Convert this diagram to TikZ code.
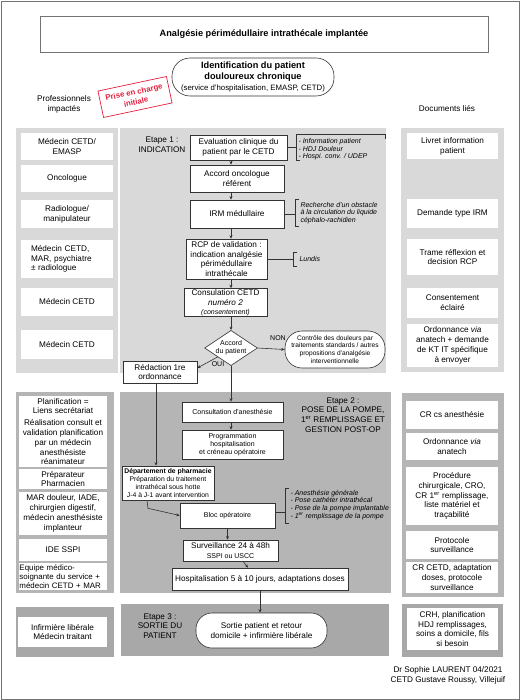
\documentclass[tikz,border=0pt]{standalone}
\usepackage{fontspec}
\setmainfont{Liberation Sans}
\usepackage{tikz}
\usetikzlibrary{shapes.geometric, arrows.meta}
\definecolor{stageone}{gray}{0.85}
\definecolor{stagetwo}{gray}{0.71}
\definecolor{stagethree}{gray}{0.66}
\definecolor{edgegray}{gray}{0.2}
\definecolor{framegray}{gray}{0.45}
\definecolor{stampred}{RGB}{228,30,60}
\newcommand{\fsn}{\fontsize{8.2}{9.8}\selectfont}
\newcommand{\fss}{\fontsize{7}{8.2}\selectfont}
\newcommand{\fsb}{\fontsize{9.2}{11}\selectfont\bfseries}
\tikzset{
	flowbox/.style={draw=edgegray, line width=0.6pt, fill=white, align=center, inner sep=0.5pt, font=\fsn},
	sidebox/.style={fill=white, align=center, inner sep=0.5pt, font=\fsn},
	wh/.style 2 args={minimum width=#1, minimum height=#2}
}
\tikzset{
	notetext/.style={font=\fontsize{7}{7.8}\selectfont\itshape, align=left, anchor=west, inner sep=0pt},
	yesno/.style={font=\fss, inner sep=0pt},
	brack/.style={draw=edgegray, line width=0.5pt},
	flowarrow/.style={-{Stealth[length=3.5pt, width=3pt]}, draw=edgegray, line width=0.6pt}
}

\begin{document}
\begin{tikzpicture}[x=1pt, y=-1pt]
  \useasboundingbox (0,0) rectangle (520,700);
  \draw[framegray, line width=0.8pt] (1,1) rectangle (519,699);

  % bands of the three stages
  \fill[stageone] (16,128) rectangle (118,373);
  \fill[stageone] (120,128) rectangle (386,373);
  \fill[stageone] (401,128) rectangle (504,372);
  \fill[stagetwo] (16,392) rectangle (114,593);
  \fill[stagetwo] (120,392) rectangle (391,593);
  \fill[stagetwo] (402,393) rectangle (504,597);
  \fill[stagethree] (16,607) rectangle (114,657);
  \fill[stagethree] (121,604) rectangle (389,656);
  \fill[stagethree] (402,604) rectangle (503,657);

  \node[draw=framegray, line width=0.6pt, wh={448}{36}, font=\fsb] (title) at (264,34) {Analgésie périmédullaire intrathécale implantée};
  \node[draw=edgegray, line width=0.6pt, rounded corners=18, wh={162}{38}, align=center, inner sep=0pt, font=\fontsize{9.2}{11.2}\selectfont] (ident) at (253,77)
    {{\fsb Identification du patient}\\{\fsb douloureux chronique}\\{\fontsize{7.8}{9}\selectfont (service d'hospitalisation, EMASP, CETD)}};
  \node[draw=stampred, text=stampred, line width=0.7pt, rotate=12, wh={70}{27}, align=center, inner sep=0pt, font=\bfseries\fontsize{7.8}{10}\selectfont] (stamp) at (135,97) {Prise en charge\\initiale};
  \node[font=\fsn, align=center] (prolabel) at (64,104) {Professionnels\\impactés};
  \node[font=\fsn] (doclabel) at (447,109) {Documents liés};

  % etape 1
  \node[sidebox, wh={92}{27}] (who1) at (67,146.5) {Médecin CETD/\\EMASP};
  \node[sidebox, wh={92}{27}] (who2) at (67,178.5) {Oncologue};
  \node[sidebox, wh={92}{28}] (who3) at (67,214) {Radiologue/\\manipulateur};
  \node[sidebox, wh={92}{38}, text width=72, align=left] (who4) at (67,259) {Médecin CETD,\\MAR, psychiatre\\± radiologue};
  \node[sidebox, wh={92}{28}] (who5) at (67,302) {Médecin CETD};
  \node[sidebox, wh={92}{29}] (who6) at (67,344.5) {Médecin CETD};

  \node[sidebox, wh={91}{26}] (doc1) at (452.5,146) {Livret information\\patient};
  \node[sidebox, wh={91}{29}] (doc2) at (452.5,213.5) {Demande type IRM};
  \node[sidebox, wh={91}{36}] (doc3) at (452.5,257) {Trame réflexion et\\decision RCP};
  \node[sidebox, wh={91}{30}] (doc4) at (452.5,303) {Consentement\\éclairé};
  \node[sidebox, wh={91}{43}] (doc5) at (452.5,345.5) {Ordonnance \textit{via}\\anatech + demande\\de KT IT spécifique\\à envoyer};

  \coordinate (spine) at (231,0);
  \node[font=\fsn, align=center] (etape1) at (162,145) {Etape 1 :\\INDICATION};
  \node[flowbox, wh={97}{25}] (eval) at (238.5,147.5) {Evaluation clinique du\\patient par le CETD};
  \node[flowbox, wh={94}{27}] (onco) at (237,178.5) {Accord oncologue\\référent};
  \node[flowbox, wh={94}{28}] (irm) at (237,214) {IRM médullaire};
  \node[flowbox, wh={81}{40}] (rcp) at (226.5,259) {RCP de validation :\\indication analgésie\\périmédullaire\\intrathécale};
  \node[flowbox, wh={83}{28}] (cons2) at (225.5,302.5) {Consulation CETD\\{\itshape numéro 2}\\[-1pt]{\fss\itshape (consentement)}};
  \node[flowbox, diamond, aspect=1.5, inner sep=0pt, font=\fss] (accord) at (231,348) {Accord\\du patient};
  \node[yesno] (non) at (278,338) {NON};
  \node[yesno] (oui) at (218,364) {OUI};
  \node[flowbox, rounded corners=17, wh={100}{37}, font=\fontsize{6.6}{7.8}\selectfont] (controle) at (335,349.5)
    {Contrôle des douleurs par\\traitements standards / autres\\propositions d'analgésie\\interventionnelle};
  \node[flowbox, wh={74}{22}] (redac) at (160,372) {Rédaction 1re\\ordonnance};

  \draw[brack] (eval.east) -- ++(9,0) coordinate (bke);
  \draw[brack] (bke) ++(4,12.5) -- ++(-4,0) -- ++(0,-26) -- ++(89,0) -- ++(0,5);
  \node[notetext, font=\fontsize{7}{7.5}\selectfont\itshape] (evalnote) at ([xshift=2pt, yshift=-2pt]bke) {- Information patient\\- HDJ Douleur\\- Hospi. conv. / UDEP};
  \draw[brack] (irm.east) -- ++(11,0) coordinate (bki);
  \draw[brack] (bki) ++(4,-15) -- ++(-4,0) -- ++(0,27) -- ++(4,0);
  \node[notetext] (irmnote) at ([xshift=5pt, yshift=1pt]bki) {Recherche d'un obstacle\\à la circulation du liquide\\céphalo-rachidien};
  \draw[brack] (rcp.east) -- ++(26,0) coordinate (bkr);
  \draw[brack] (bkr) ++(4,-7) -- ++(-4,0) -- ++(0,14) -- ++(4,0);
  \node[notetext] (rcpnote) at ([xshift=6pt]bkr) {Lundis};

  % etape 2
  \node[sidebox, wh={88}{71}] (who7) at (63,431.5) {Planification =\\Liens secrétariat\\[2pt]Réalisation consult et\\validation planification\\par un médecin\\anesthésiste\\réanimateur};
  \node[sidebox, wh={88}{20}] (who8) at (63,479) {Préparateur\\Pharmacien};
  \node[sidebox, wh={88}{43}] (who9) at (63,513.5) {MAR douleur, IADE,\\chirurgien digestif,\\médecin anesthésiste\\implanteur};
  \node[sidebox, wh={88}{22}] (who10) at (63,550) {IDE SSPI};
  \node[sidebox, wh={88}{27}, text width=87, align=left, font=\fontsize{7.9}{8.7}\selectfont] (who11) at (63,576.5) {Equipe médico-\\soignante du service +\\médecin CETD + MAR};

  \node[sidebox, wh={92}{28}] (doc6) at (452,415) {CR cs anesthésie};
  \node[sidebox, wh={92}{27}] (doc7) at (452,446.5) {Ordonnance \textit{via}\\anatech};
  \node[sidebox, wh={92}{58}] (doc8) at (452,496) {Procédure\\chirurgicale, CRO,\\CR 1\textsuperscript{er} remplissage,\\liste matériel et\\traçabilité};
  \node[sidebox, wh={92}{28}] (doc9) at (452,545) {Protocole\\surveillance};
  \node[sidebox, wh={92}{31}] (doc10) at (452,577.5) {CR CETD, adaptation\\doses, protocole\\surveillance};

  \node[font=\fsn, align=center] (etape2) at (343,415) {Etape 2 :\\POSE DE LA POMPE,\\1\textsuperscript{er} REMPLISSAGE ET\\GESTION POST-OP};
  \node[flowbox, wh={101}{20}, font=\fss] (consanest) at (232.5,412) {Consultation d'anesthésie};
  \node[flowbox, wh={101}{29}, font=\fss] (prog) at (232.5,444.5) {Programmation\\hospitalisation\\et créneau opératoire};
  \node[flowbox, wh={92}{34}, font=\fontsize{6.8}{7.8}\selectfont] (pharma) at (168,483) {\textbf{Département de pharmacie}\\Préparation du traitement\\intrathécal sous hotte\\J-4 à J-1 avant intervention};
  \node[flowbox, wh={95}{25}, font=\fss] (bloc) at (227.5,515.5) {Bloc opératoire};
  \node[flowbox, wh={95}{21}] (surv) at (230.5,550.5) {Surveillance 24 à 48h\\{\fss SSPI ou USCC}};
  \node[flowbox, wh={176}{22}] (hosp) at (260,579) {Hospitalisation 5 à 10 jours, adaptations doses};

  \draw[brack] ([yshift=3pt]bloc.east) -- ++(10,0) coordinate (bkb);
  \draw[brack] (bkb) ++(4,-24.5) -- ++(-4,0) -- ++(0,35) -- ++(4,0);
  \node[notetext] (blocnote) at ([xshift=5pt, yshift=7.5pt]bkb) {- Anesthésie générale\\- Pose cathéter intrathécal\\- Pose de la pompe implantable\\- 1\textsuperscript{er} remplissage de la pompe};

  % etape 3
  \node[sidebox, wh={89}{30}] (who12) at (62.5,632) {Infirmière libérale\\Médecin traitant};
  \node[font=\fsn, align=center] (etape3) at (160,626) {Etape 3 :\\SORTIE DU\\PATIENT};
  \node[flowbox, rounded corners=16, wh={131}{35}] (sortie) at (261.5,630.5) {Sortie patient et retour\\domicile + infirmière libérale};
  \node[sidebox, wh={91}{42}] (doc11) at (452.5,629) {CRH, planification\\HDJ remplissages,\\soins a domicile, fils\\si besoin};
  \node[font=\fsn, align=center] (credit) at (448,675) {Dr Sophie LAURENT 04/2021\\CETD Gustave Roussy, Villejuif};

  % fleches
  \coordinate (lane) at (156,0);
  \coordinate (kink) at (147,0);
  \foreach \a/\b in {eval/onco, onco/irm, irm/rcp, rcp/cons2, cons2/accord}
    \draw[flowarrow] (\a.south -| spine) -- (\b.north -| spine);
  \draw[flowarrow] (accord.east) -- (controle.west);
  \draw[flowarrow] (accord.south west) -- ([yshift=4pt]redac.east);
  \draw[flowarrow] (accord.south) -- (consanest.north -| spine);
  \draw[flowarrow] (consanest.south -| spine) -- (prog.north -| spine);
  \draw[flowarrow] (redac.south -| lane) -- (pharma.north -| lane);
  \draw[flowarrow] (pharma.south -| kink) -- ++(1,8) -- (bloc.west);
  \draw[flowarrow] (bloc.south) -- (bloc.south |- surv.north);
  \draw[flowarrow] ([xshift=12.5pt]surv.south) -- ([xshift=-12pt]hosp.north);
  \draw[flowarrow] (hosp.south) -- (hosp.south |- sortie.north);
\end{tikzpicture}
\end{document}
